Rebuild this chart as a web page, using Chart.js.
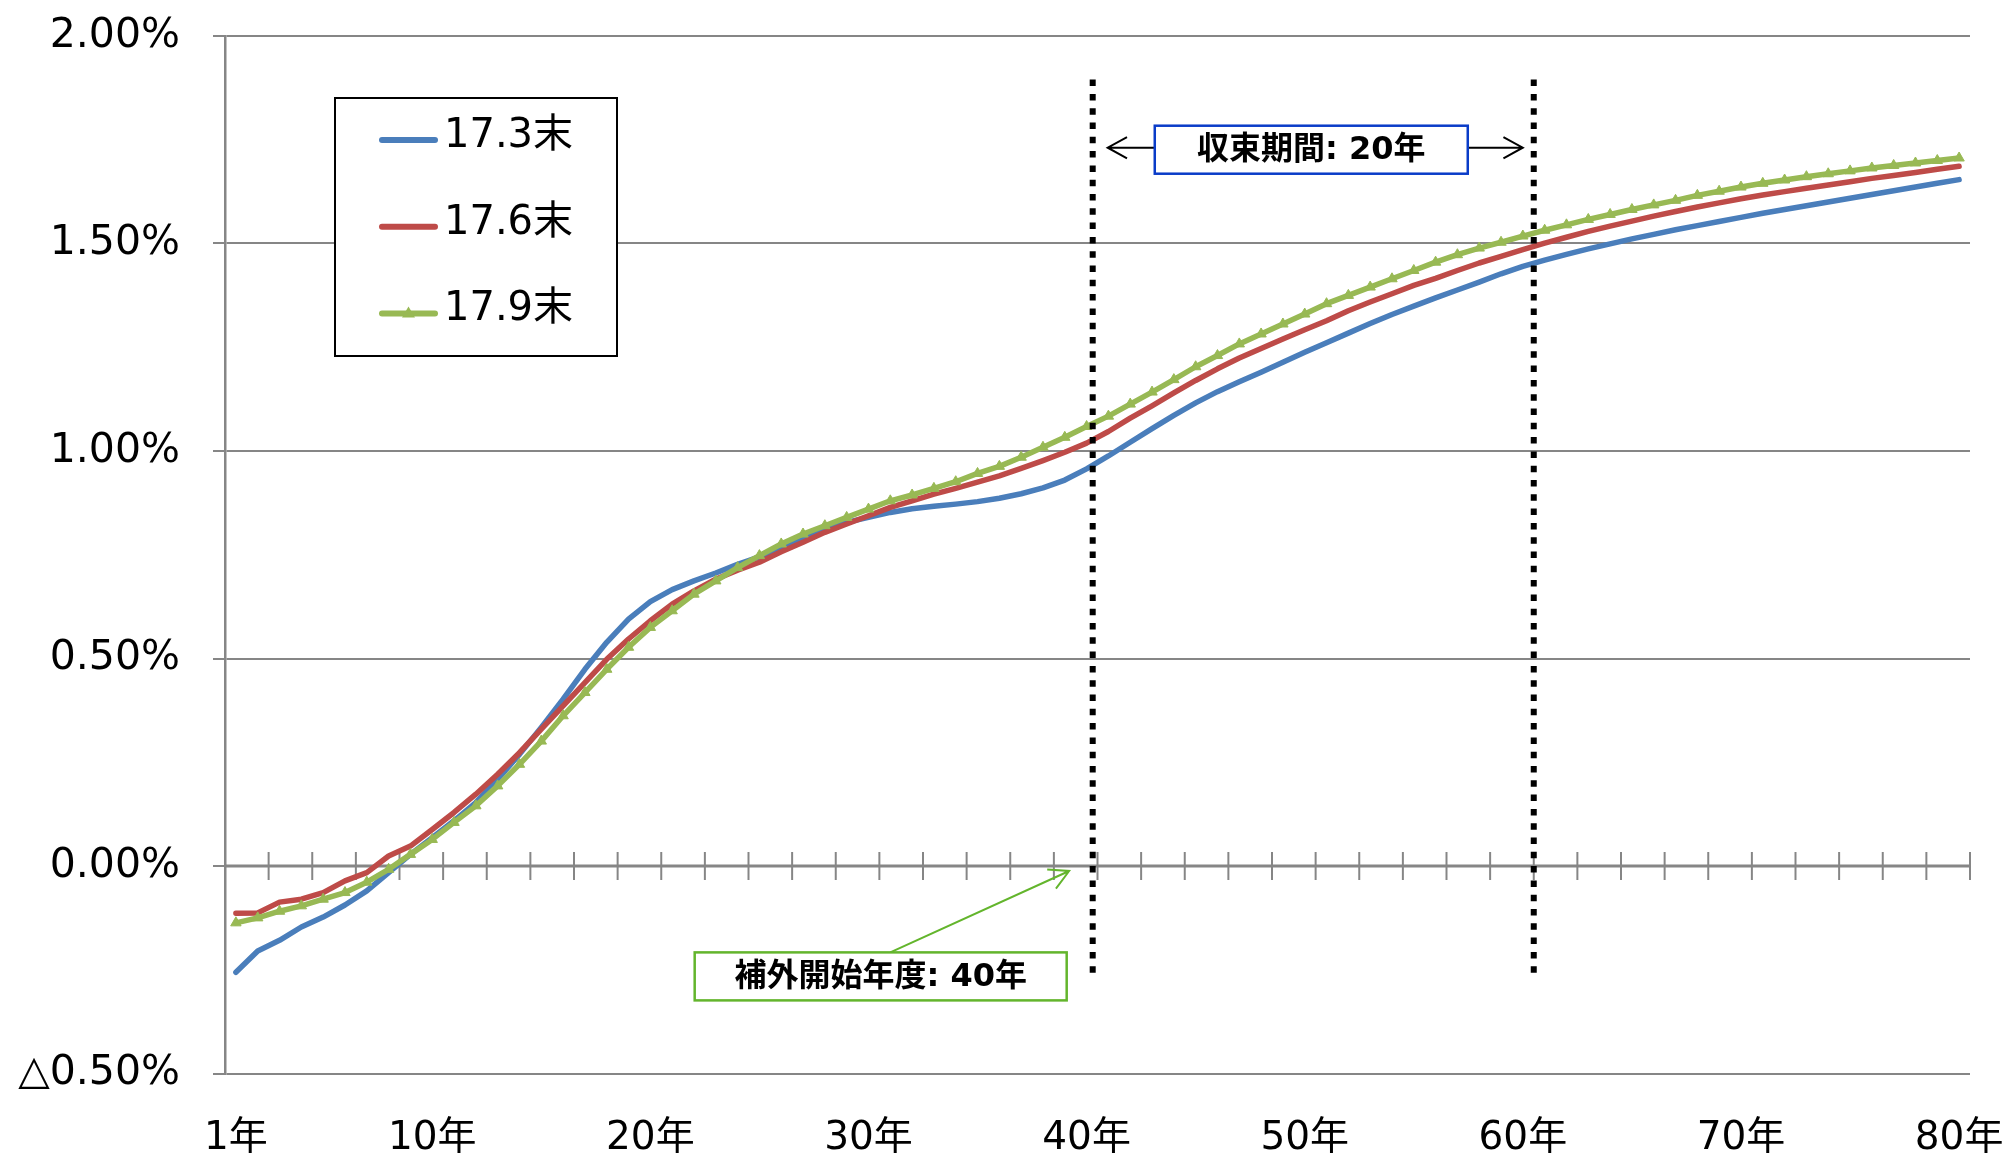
<!DOCTYPE html>
<html>
<head>
<meta charset="utf-8">
<script src="https://cdn.jsdelivr.net/npm/chart.js@4.4.0/dist/chart.umd.min.js"></script>
<style>
    body { margin: 0; background: #fff; }
    #box { width: 2008px; height: 1160px; }
</style>
</head>
<body>
<div id="box"><canvas id="Chart1" width="2008" height="1160"></canvas></div>
<script>
// 年数（1年〜80年）
var years = [];
for (var i = 1; i <= 80; i++) {
    years.push(i + '年');
}
var shownYears = [1, 10, 20, 30, 40, 50, 60, 70, 80];
var yTicks = [-0.5, 0, 0.5, 1.0, 1.5, 2.0];
var seriesNames = ['17.3末', '17.6末', '17.9末'];

// 各時点のカーブ（%）
var curve173 = [-0.256, -0.205, -0.179, -0.147, -0.123, -0.094, -0.060, -0.016, 0.028, 0.068,
    0.109, 0.153, 0.209, 0.269, 0.334, 0.402, 0.474, 0.539, 0.595, 0.637,
    0.666, 0.687, 0.706, 0.727, 0.745, 0.768, 0.791, 0.811, 0.828, 0.840,
    0.852, 0.861, 0.867, 0.872, 0.878, 0.886, 0.897, 0.911, 0.930, 0.957,
    0.988, 1.021, 1.054, 1.086, 1.116, 1.143, 1.167, 1.190, 1.214, 1.238,
    1.261, 1.284, 1.307, 1.329, 1.349, 1.369, 1.388, 1.407, 1.427, 1.445,
    1.460, 1.474, 1.487, 1.499, 1.511, 1.522, 1.533, 1.543, 1.553, 1.563,
    1.573, 1.582, 1.591, 1.600, 1.609, 1.618, 1.627, 1.636, 1.645, 1.654];
var curve176 = [-0.114, -0.113, -0.087, -0.080, -0.064, -0.036, -0.016, 0.024, 0.048, 0.088,
    0.129, 0.173, 0.221, 0.273, 0.330, 0.386, 0.442, 0.498, 0.547, 0.591,
    0.631, 0.663, 0.691, 0.713, 0.732, 0.757, 0.780, 0.804, 0.824, 0.844,
    0.864, 0.880, 0.896, 0.910, 0.925, 0.940, 0.958, 0.977, 0.997, 1.019,
    1.047, 1.079, 1.109, 1.140, 1.170, 1.198, 1.224, 1.247, 1.270, 1.292,
    1.314, 1.338, 1.359, 1.379, 1.399, 1.416, 1.435, 1.453, 1.469, 1.485,
    1.501, 1.515, 1.529, 1.542, 1.554, 1.566, 1.577, 1.588, 1.598, 1.608,
    1.617, 1.625, 1.633, 1.641, 1.649, 1.657, 1.664, 1.671, 1.679, 1.686];
var curve179 = [-0.137, -0.125, -0.109, -0.096, -0.080, -0.064, -0.039, -0.008, 0.028, 0.064,
    0.105, 0.145, 0.193, 0.245, 0.301, 0.362, 0.418, 0.474, 0.527, 0.575,
    0.615, 0.655, 0.687, 0.719, 0.748, 0.776, 0.800, 0.820, 0.840, 0.860,
    0.880, 0.894, 0.910, 0.926, 0.946, 0.963, 0.985, 1.009, 1.033, 1.059,
    1.084, 1.113, 1.142, 1.172, 1.203, 1.230, 1.258, 1.282, 1.306, 1.330,
    1.355, 1.375, 1.395, 1.415, 1.435, 1.455, 1.473, 1.489, 1.503, 1.518,
    1.532, 1.545, 1.558, 1.570, 1.582, 1.593, 1.604, 1.616, 1.626, 1.636,
    1.645, 1.653, 1.661, 1.668, 1.675, 1.682, 1.688, 1.694, 1.700, 1.706];

// 注記（年・値で位置指定）
var dotLines = [40.28, 60.5];
var dotFrom = 1.895, dotTo = -0.257;
var convergeText = '収束期間: 20年';
var extrapText = '補外開始年度: 40年';

var FONT = '"DejaVu Sans", "Noto Sans CJK JP", sans-serif';
var GRID = '#868686';

function xAt(chart, yr) {
    var xs = chart.scales.x;
    var step = xs.getPixelForValue(1) - xs.getPixelForValue(0);
    return xs.getPixelForValue(0) + (yr - 1) * step;
}

function arrow(ctx, x1, y1, x2, y2, color) {
    var a = Math.atan2(y2 - y1, x2 - x1);
    var len = 22, w = 0.5;
    ctx.strokeStyle = color;
    ctx.lineWidth = 2;
    ctx.beginPath();
    ctx.moveTo(x1, y1);
    ctx.lineTo(x2, y2);
    ctx.moveTo(x2 - len * Math.cos(a - w), y2 - len * Math.sin(a - w));
    ctx.lineTo(x2, y2);
    ctx.lineTo(x2 - len * Math.cos(a + w), y2 - len * Math.sin(a + w));
    ctx.stroke();
}

function textBox(ctx, cx, cy, w, h, text, color) {
    ctx.fillStyle = '#fff';
    ctx.fillRect(cx - w / 2, cy - h / 2, w, h);
    ctx.strokeStyle = color;
    ctx.lineWidth = 2.5;
    ctx.strokeRect(cx - w / 2, cy - h / 2, w, h);
    ctx.fillStyle = '#000';
    ctx.font = 'bold 32px ' + FONT;
    ctx.textAlign = 'center';
    ctx.textBaseline = 'middle';
    ctx.fillText(text, cx, cy + 1);
}

var decoPlugin = {
    id: 'deco',
    beforeDatasetsDraw: function (chart) {
        // 0%の横軸と目盛り
        var ctx = chart.ctx, xs = chart.scales.x, ys = chart.scales.y;
        var area = chart.chartArea;
        var y0 = ys.getPixelForValue(0);
        var step = xs.getPixelForValue(1) - xs.getPixelForValue(0);
        ctx.save();
        ctx.strokeStyle = GRID;
        ctx.lineWidth = 3;
        ctx.beginPath();
        ctx.moveTo(area.left, y0);
        ctx.lineTo(area.right, y0);
        ctx.stroke();
        ctx.lineWidth = 2;
        for (var k = 2; k <= years.length; k += 2) {
            var x = xs.getPixelForValue(k - 1) + step / 2;
            ctx.beginPath();
            ctx.moveTo(x, y0 - 14);
            ctx.lineTo(x, y0 + 14);
            ctx.stroke();
        }
        ctx.restore();
    },
    afterDatasetsDraw: function (chart) {
        var ctx = chart.ctx, ys = chart.scales.y;
        ctx.save();
        // 点線
        ctx.strokeStyle = '#000';
        ctx.lineWidth = 6;
        ctx.setLineDash([6.5, 7.8]);
        dotLines.forEach(function (yr) {
            var x = xAt(chart, yr);
            ctx.beginPath();
            ctx.moveTo(x, ys.getPixelForValue(dotFrom));
            ctx.lineTo(x, ys.getPixelForValue(dotTo));
            ctx.stroke();
        });
        ctx.setLineDash([]);

        // 収束期間
        var bx = xAt(chart, 50.3), by = ys.getPixelForValue(1.726);
        var bw = 313, bh = 48;
        var xl = xAt(chart, dotLines[0]), xr = xAt(chart, dotLines[1]);
        arrow(ctx, bx - bw / 2, by - 2, xl + 15, by - 2, '#000');
        arrow(ctx, bx + bw / 2, by - 2, xr - 11, by - 2, '#000');
        textBox(ctx, bx, by, bw, bh, convergeText, '#0a3cc8');

        // 補外開始年度
        var gx = xAt(chart, 30.56), gy = ys.getPixelForValue(-0.266);
        var gw = 372, gh = 48;
        arrow(ctx, xAt(chart, 31.0), gy - gh / 2, xAt(chart, 39.2), ys.getPixelForValue(-0.012), '#63b52c');
        textBox(ctx, gx, gy, gw, gh, extrapText, '#63b52c');
        ctx.restore();
    },
    afterDraw: function (chart) {
        // 凡例
        var ctx = chart.ctx;
        var lx = 335, ly = 98, lw = 282, lh = 258;
        ctx.save();
        ctx.fillStyle = '#fff';
        ctx.fillRect(lx, ly, lw, lh);
        ctx.strokeStyle = '#000';
        ctx.lineWidth = 2;
        ctx.strokeRect(lx, ly, lw, lh);
        chart.data.datasets.forEach(function (ds, i) {
            var y = 140 + i * 86.7;
            ctx.strokeStyle = ds.borderColor;
            ctx.lineWidth = 6;
            ctx.lineCap = 'round';
            ctx.beginPath();
            ctx.moveTo(382, y);
            ctx.lineTo(435, y);
            ctx.stroke();
            if (ds.pointRadius > 0) {
                ctx.fillStyle = ds.borderColor;
                ctx.beginPath();
                ctx.moveTo(408.5, y - 7);
                ctx.lineTo(415, y + 4);
                ctx.lineTo(402, y + 4);
                ctx.closePath();
                ctx.fill();
            }
            ctx.fillStyle = '#000';
            ctx.font = '40px ' + FONT;
            ctx.textAlign = 'left';
            ctx.textBaseline = 'alphabetic';
            ctx.fillText(ds.label, 444, y + 7);
        });
        ctx.restore();
    }
};

var ctx = document.getElementById('Chart1').getContext('2d');
var myChart = new Chart(ctx, {
    type: 'line',
    data: {
        labels: years,
        datasets: [{
            label: seriesNames[0],
            data: curve173,
            borderColor: '#4A7EBB',
            backgroundColor: '#4A7EBB',
            borderWidth: 5.5,
            pointRadius: 0,
            order: 2
        }, {
            label: seriesNames[1],
            data: curve176,
            borderColor: '#BE4B48',
            backgroundColor: '#BE4B48',
            borderWidth: 5.5,
            pointRadius: 0,
            order: 1
        }, {
            label: seriesNames[2],
            data: curve179,
            borderColor: '#98B954',
            backgroundColor: '#98B954',
            borderWidth: 5.5,
            pointStyle: 'triangle',
            pointRadius: 6,
            pointBorderWidth: 1,
            order: 0
        }]
    },
    options: {
        responsive: false,
        animation: false,
        devicePixelRatio: 1,
        events: [],
        layout: { padding: { left: 0, top: 36, right: 38, bottom: 0 } },
        elements: { line: { tension: 0, borderCapStyle: 'round', borderJoinStyle: 'round' } },
        plugins: { legend: { display: false }, tooltip: { enabled: false } },
        scales: {
            x: {
                type: 'category',
                offset: true,
                grid: { display: false, drawTicks: false },
                border: { display: false },
                ticks: {
                    autoSkip: false,
                    maxRotation: 0,
                    padding: 42,
                    color: '#000',
                    font: { family: FONT, size: 39 },
                    callback: function (v, idx) {
                        return shownYears.indexOf(idx + 1) >= 0 ? years[idx] : '';
                    }
                },
                afterFit: function (scale) {
                    scale.height = 86.5;
                    scale.paddingLeft = 0;
                    scale.paddingRight = 0;
                }
            },
            y: {
                min: yTicks[0],
                max: yTicks[yTicks.length - 1],
                grid: { color: GRID, lineWidth: 2, tickLength: 12, drawTicks: true },
                border: { color: GRID, width: 2.5 },
                ticks: {
                    stepSize: 0.5,
                    padding: 33,
                    color: '#000',
                    font: { family: FONT, size: 41 },
                    callback: function (v) {
                        return v < 0 ? '△' + Math.abs(v).toFixed(2) + '%' : v.toFixed(2) + '%';
                    }
                },
                afterFit: function (scale) {
                    scale.width = 225;
                    scale.paddingTop = 0;
                    scale.paddingBottom = 0;
                }
            }
        }
    },
    plugins: [decoPlugin]
});
</script>
</body>
</html>
